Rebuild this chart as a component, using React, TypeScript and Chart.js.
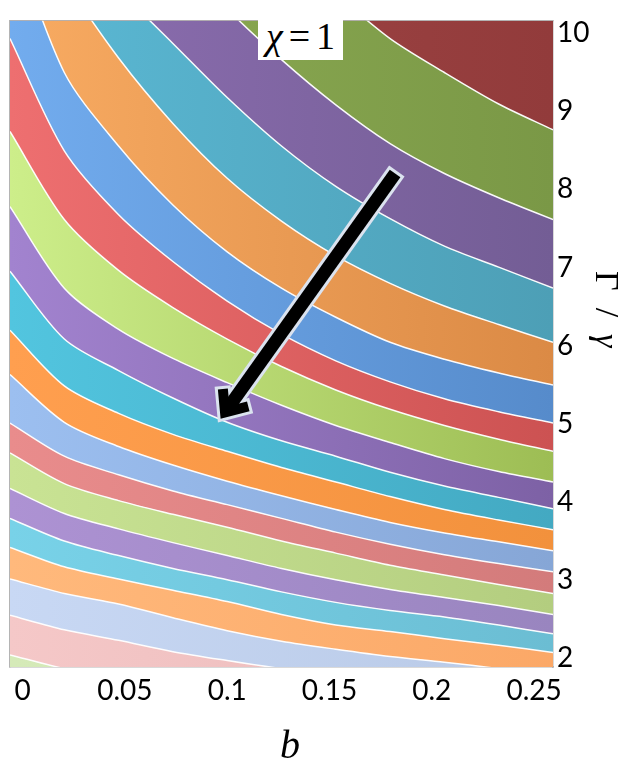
import React, { useEffect, useRef } from 'react';
import { Chart, registerables } from 'chart.js';

Chart.register(...registerables);

// b values of the surface grid columns
const B_VALUES = [0, 0.025, 0.05, 0.075, 0.1, 0.125, 0.15, 0.175, 0.2, 0.225, 0.25];

// Contour boundaries (Γ/γ at each b column), from the top-right band downwards
const CONTOUR_01 = [13.72, 13.12, 12.51, 11.9, 11.42, 10.87, 10.33, 9.78, 9.36, 8.97, 8.65];
const CONTOUR_02 = [13.3, 12.51, 11.72, 10.93, 10.15, 9.52, 8.96, 8.48, 8.11, 7.81, 7.54];
const CONTOUR_03 = [11.9, 11.12, 10.39, 9.72, 9.05, 8.45, 7.95, 7.55, 7.21, 6.95, 6.69];
const CONTOUR_04 = [11.6, 10.51, 9.54, 8.73, 8.05, 7.52, 7.09, 6.75, 6.47, 6.24, 6.02];
const CONTOUR_05 = [11.13, 9.36, 8.45, 7.72, 7.14, 6.69, 6.33, 6.02, 5.81, 5.64, 5.49];
const CONTOUR_06 = [9.78, 8.39, 7.6, 7.02, 6.53, 6.12, 5.79, 5.53, 5.32, 5.16, 5.02];
const CONTOUR_07 = [8.63, 7.54, 6.91, 6.45, 6.06, 5.72, 5.43, 5.19, 4.99, 4.82, 4.67];
const CONTOUR_08 = [7.7, 6.69, 6.18, 5.82, 5.52, 5.24, 4.99, 4.78, 4.58, 4.42, 4.29];
const CONTOUR_09 = [6.9, 6.06, 5.67, 5.33, 5.03, 4.8, 4.61, 4.41, 4.24, 4.1, 3.96];
const CONTOUR_10 = [6.17, 5.48, 5.14, 4.88, 4.67, 4.47, 4.29, 4.11, 3.95, 3.82, 3.7];
const CONTOUR_11 = [5.62, 5.03, 4.73, 4.5, 4.3, 4.12, 3.95, 3.79, 3.66, 3.55, 3.44];
const CONTOUR_12 = [5.02, 4.61, 4.38, 4.18, 4.01, 3.84, 3.67, 3.52, 3.39, 3.28, 3.18];
const CONTOUR_13 = [4.65, 4.27, 4.06, 3.89, 3.73, 3.56, 3.41, 3.26, 3.14, 3.02, 2.91];
const CONTOUR_14 = [4.21, 3.9, 3.71, 3.54, 3.38, 3.22, 3.08, 2.96, 2.86, 2.76, 2.65];
const CONTOUR_15 = [3.84, 3.56, 3.38, 3.22, 3.08, 2.93, 2.8, 2.7, 2.62, 2.52, 2.41];
const CONTOUR_16 = [3.48, 3.24, 3.09, 2.95, 2.81, 2.65, 2.52, 2.44, 2.35, 2.27, 2.18];
const CONTOUR_17 = [3.09, 2.91, 2.78, 2.61, 2.45, 2.32, 2.22, 2.13, 2.06, 1.98, 1.89];
const CONTOUR_18 = [2.64, 2.46, 2.33, 2.19, 2.08, 1.98, 1.9, 1.82, 1.75, 1.67, 1.6];
const CONTOUR_19 = [2.15, 1.98, 1.87, 1.72, 1.6, 1.48, 1.38, 1.28, 1.19, 1.09, 0.99];

// Band colours (left tone, right tone), from the lowest band to the highest
const BAND_COLORS = [
  ['#d5eab8', '#cfe0b0'],
  ['#f5c8c8', '#e9b8b8'],
  ['#c8d8f4', '#b8c9e6'],
  ['#ffb97c', '#fba867'],
  ['#78d2e8', '#6bbdd3'],
  ['#ad92d3', '#9985bf'],
  ['#c9e394', '#b3cd7f'],
  ['#e98c8c', '#d37b7b'],
  ['#9cbff0', '#86a6d6'],
  ['#ff9f4f', '#f2913c'],
  ['#52c5df', '#43a9c2'],
  ['#a283cf', '#7d61a5'],
  ['#cdee8a', '#9dbd54'],
  ['#ee6f70', '#cc5252'],
  ['#72acee', '#568bcb'],
  ['#f8ab62', '#db8a45'],
  ['#5bb9d5', '#4d9fb6'],
  ['#8e6fb2', '#735d95'],
  ['#8fae55', '#7a9846'],
  ['#a34848', '#923b3b'],
];

// Axis tick labels (placed as in the figure)
const X_TICKS = [0, 0.05, 0.1, 0.15, 0.2, 0.25];
const X_TICK_LABELS = ['0', '0.05', '0.1', '0.15', '0.2', '0.25'];
const X_LABEL_RANGE = [-0.00616, 0.25926];
const Y_TICKS = [2, 3, 4, 5, 6, 7, 8, 9, 10];
const Y_LABEL_RANGE = [1.8902, 10.1578];

// Arrow annotation (b, Γ/γ)
const ARROW_TAIL = [0.1773, 8.11];
const ARROW_TIP = [0.099, 5.152];
const ARROW_BARB_A = [0.1097, 5.227];
const ARROW_BARB_B = [0.098, 5.441];
const ARROW_OUTLINE = '#dbe3ef';

const arrowPlugin = {
  id: 'arrowAnnotation',
  afterDraw(chart: any) {
    const ctx = chart.ctx;
    const xs = chart.scales.x;
    const ys = chart.scales.y;
    const px = (p: number[]) => [xs.getPixelForValue(p[0]), ys.getPixelForValue(p[1])];
    const [tx, ty] = px(ARROW_TAIL);
    const [hx, hy] = px(ARROW_TIP);
    const [ax, ay] = px(ARROW_BARB_A);
    const [bx, by] = px(ARROW_BARB_B);
    const len = Math.hypot(hx - tx, hy - ty);
    const ux = (hx - tx) / len;
    const uy = (hy - ty) / len;
    const ext = (x: number, y: number, d: number) => {
      const l = Math.hypot(x - hx, y - hy);
      return [x + ((x - hx) / l) * d, y + ((y - hy) / l) * d];
    };
    const [axo, ayo] = ext(ax, ay, 3);
    const [bxo, byo] = ext(bx, by, 3);
    ctx.save();
    ctx.lineJoin = 'miter';
    ctx.miterLimit = 10;
    ctx.lineCap = 'butt';
    ctx.strokeStyle = ARROW_OUTLINE;
    ctx.lineWidth = 19;
    ctx.beginPath();
    ctx.moveTo(tx - ux * 3, ty - uy * 3);
    ctx.lineTo(hx - ux * 5, hy - uy * 5);
    ctx.stroke();
    ctx.lineWidth = 16;
    ctx.beginPath();
    ctx.moveTo(axo, ayo);
    ctx.lineTo(hx, hy);
    ctx.lineTo(bxo, byo);
    ctx.stroke();
    ctx.strokeStyle = '#000';
    ctx.lineWidth = 13;
    ctx.beginPath();
    ctx.moveTo(tx, ty);
    ctx.lineTo(hx - ux * 5, hy - uy * 5);
    ctx.stroke();
    ctx.lineWidth = 10;
    ctx.beginPath();
    ctx.moveTo(ax, ay);
    ctx.lineTo(hx, hy);
    ctx.lineTo(bx, by);
    ctx.stroke();
    ctx.restore();
  },
};

export default function App() {
  const canvasRef = useRef<HTMLCanvasElement>(null);

  useEffect(() => {
    const canvas = canvasRef.current;
    if (!canvas) return;

    const contoursBottomUp = [
      CONTOUR_19, CONTOUR_18, CONTOUR_17, CONTOUR_16, CONTOUR_15, CONTOUR_14, CONTOUR_13,
      CONTOUR_12, CONTOUR_11, CONTOUR_10, CONTOUR_09, CONTOUR_08, CONTOUR_07, CONTOUR_06,
      CONTOUR_05, CONTOUR_04, CONTOUR_03, CONTOUR_02, CONTOUR_01,
    ];
    const toPoints = (arr: number[]) => B_VALUES.map((b, i) => ({ x: b, y: arr[i] }));
    const gradient = (pair: string[]) => (c: any) => {
      const chart = c.chart;
      const a = chart.chartArea;
      if (!a) return pair[0];
      const g = chart.ctx.createLinearGradient(a.left, 0, a.right, 0);
      g.addColorStop(0, pair[0]);
      g.addColorStop(1, pair[1]);
      return g;
    };

    const common = {
      type: 'line',
      xAxisID: 'x',
      yAxisID: 'y',
      pointRadius: 0,
      pointHoverRadius: 0,
      tension: 0.3,
      capBezierPoints: false,
      clip: 0,
    };

    const datasets: any[] = contoursBottomUp.map((arr, i) => ({
      ...common,
      data: toPoints(arr),
      fill: i === 0 ? 'start' : '-1',
      backgroundColor: gradient(BAND_COLORS[i]),
      borderColor: 'rgba(255,255,255,0.95)',
      borderWidth: 1.5,
    }));
    datasets.push({
      ...common,
      data: toPoints(CONTOUR_01),
      fill: 'end',
      backgroundColor: gradient(BAND_COLORS[19]),
      borderWidth: 0,
      borderColor: 'rgba(0,0,0,0)',
    });

    const gridColor = 'rgba(255,255,255,0.78)';
    const frame = { display: true, color: '#b4b4b4', width: 1.5 };
    const tickFont = { family: 'Lato', size: 28 };

    const chart = new Chart(canvas, {
      type: 'line',
      data: { datasets },
      plugins: [arrowPlugin],
      options: {
        responsive: false,
        animation: false,
        events: [],
        layout: { padding: { left: 10, top: 7, right: 0, bottom: 0 } },
        plugins: {
          legend: { display: false },
          tooltip: { enabled: false },
          filler: { drawTime: 'beforeDatasetsDraw' },
        },
        scales: {
          x: {
            type: 'linear',
            axis: 'x',
            position: 'top',
            min: 0,
            max: 0.25,
            z: 1,
            ticks: { display: false, stepSize: 0.025 },
            grid: { color: gridColor, lineWidth: 1.5, drawTicks: false },
            border: frame,
            afterFit: (s: any) => { s.height = 0; },
          },
          y: {
            type: 'linear',
            axis: 'y',
            position: 'left',
            min: 2,
            max: 10,
            z: 1,
            ticks: { display: false, stepSize: 1 },
            grid: { color: gridColor, lineWidth: 1.5, drawTicks: false },
            border: frame,
            afterFit: (s: any) => { s.width = 0; },
          },
          xl: {
            type: 'linear',
            axis: 'x',
            position: 'bottom',
            min: X_LABEL_RANGE[0],
            max: X_LABEL_RANGE[1],
            z: 1,
            afterBuildTicks: (s: any) => { s.ticks = X_TICKS.map((v) => ({ value: v })); },
            ticks: {
              autoSkip: false,
              maxRotation: 0,
              minRotation: 0,
              padding: 7,
              color: '#000',
              font: tickFont,
              callback: (_v: any, i: number) => X_TICK_LABELS[i],
            },
            grid: { display: false, drawTicks: false },
            border: frame,
            afterFit: (s: any) => { s.height = 102; },
          },
          yl: {
            type: 'linear',
            axis: 'y',
            position: 'right',
            min: Y_LABEL_RANGE[0],
            max: Y_LABEL_RANGE[1],
            z: 1,
            afterBuildTicks: (s: any) => { s.ticks = Y_TICKS.map((v) => ({ value: v })); },
            ticks: {
              autoSkip: false,
              padding: 4,
              color: '#000',
              font: tickFont,
              callback: (v: any) => String(v),
            },
            grid: { display: false, drawTicks: false },
            border: frame,
            afterFit: (s: any) => { s.width = 77; },
          },
        },
      } as any,
    });

    return () => chart.destroy();
  }, []);

  return (
    <div style={{ position: 'absolute', left: 0, top: 0, width: 630, height: 769, background: '#fff' }}>
      <canvas ref={canvasRef} width={630} height={769} style={{ display: 'block' }} />
      <div
        style={{
          position: 'absolute', left: 258, top: 12, width: 85, height: 48, background: '#fff',
          display: 'flex', alignItems: 'center', justifyContent: 'center',
          fontFamily: '"Liberation Serif", serif', fontSize: 38, color: '#000', lineHeight: '48px',
        }}
      >
        <span style={{ fontStyle: 'italic' }}>χ</span>
        <span style={{ marginLeft: 6 }}>=</span>
        <span style={{ marginLeft: 6 }}>1</span>
      </div>
      <div
        style={{
          position: 'absolute', left: 270, top: 721, width: 40, textAlign: 'center',
          fontFamily: '"Liberation Serif", serif', fontStyle: 'italic', fontSize: 40, lineHeight: '48px', color: '#000',
        }}
      >
        b
      </div>
      <div
        style={{
          position: 'absolute', left: 590, top: 271, writingMode: 'vertical-rl',
          fontFamily: '"Liberation Serif", serif', fontSize: 34, lineHeight: '34px', color: '#000', whiteSpace: 'nowrap',
        }}
      >
        Γ{'\u2002'}/{'\u2002'}<span style={{ fontStyle: 'italic' }}>γ</span>
      </div>
    </div>
  );
}
